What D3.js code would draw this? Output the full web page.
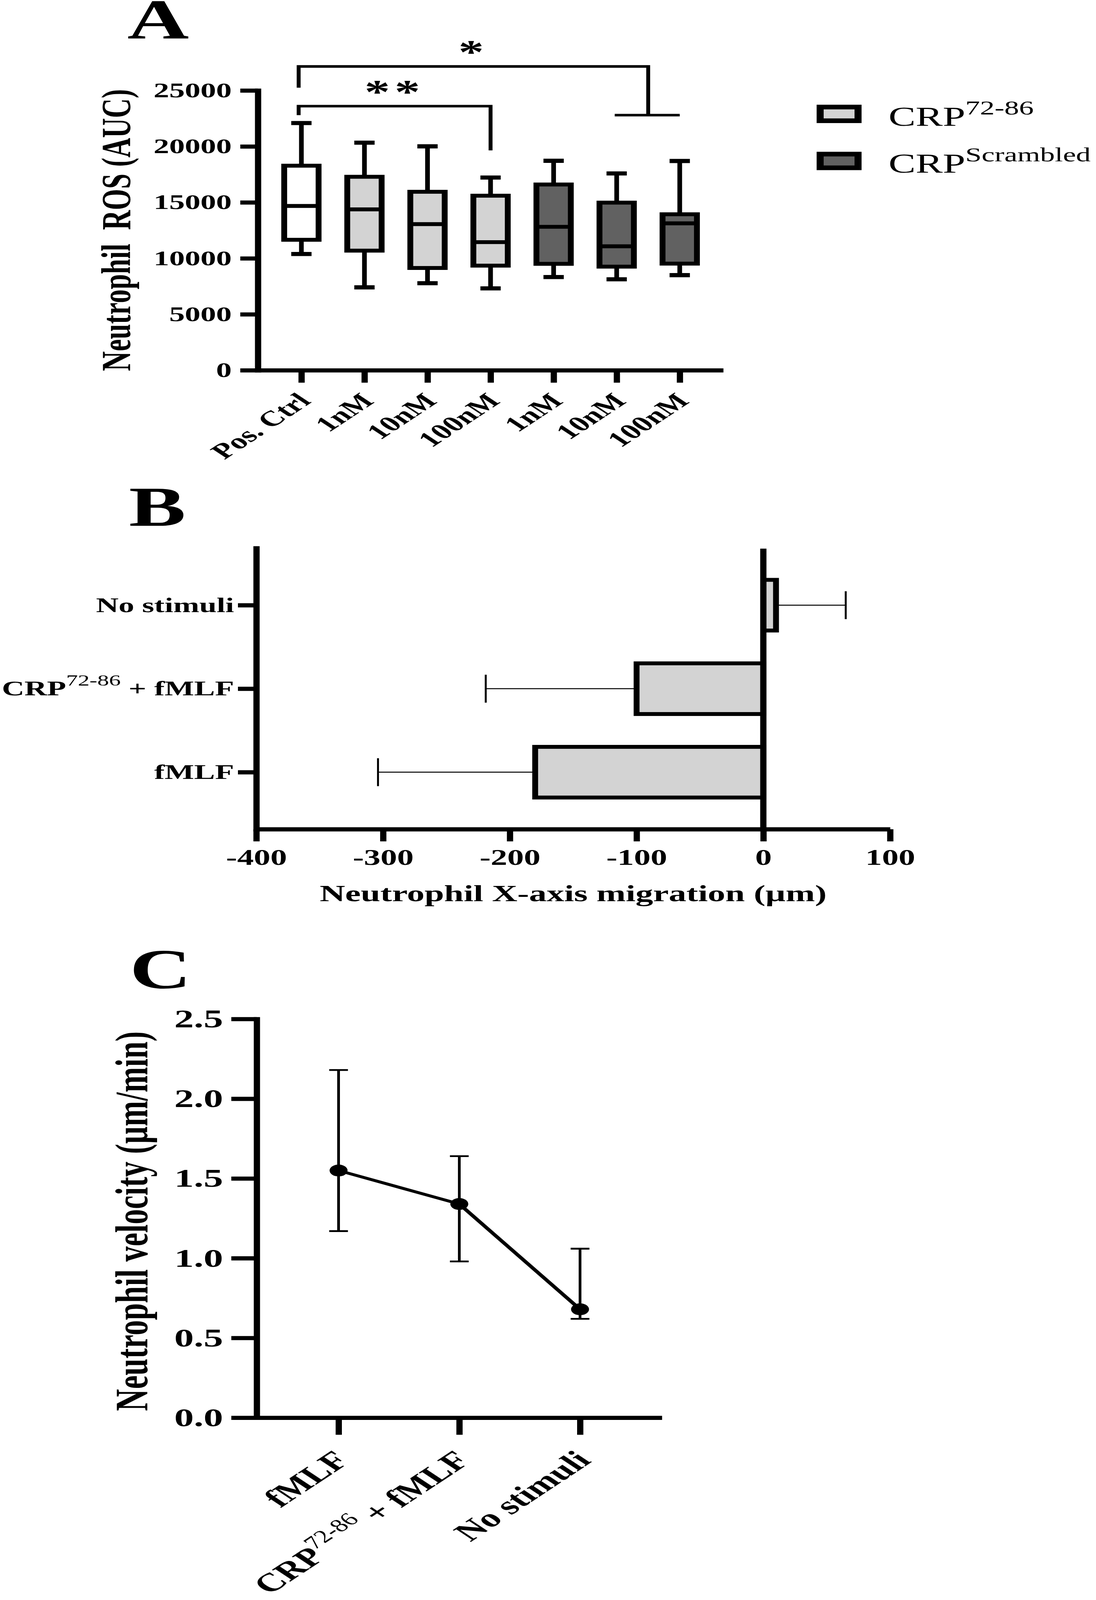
<!DOCTYPE html>
<html>
<head>
<meta charset="utf-8">
<script src="https://cdn.jsdelivr.net/npm/d3@7"></script>
<style>
  html, body { margin: 0; padding: 0; background: #fff; overflow: hidden; }
  svg { display: block; }
  svg text { font-family: "Liberation Serif", "Times New Roman", serif; }
</style>
</head>
<body>
<div id="chart"></div>
<script>
// ---- Panel A: neutrophil ROS box plots
const rosGroups = ["Pos. Ctrl", "1nM", "10nM", "100nM", "1nM", "10nM", "100nM"];
const rosPeptide = ["ctrl", "crp", "crp", "crp", "scr", "scr", "scr"];
const rosMin = [10390, 7410, 7780, 7320, 8330, 8130, 8500];
const rosQ1 = [11660, 10690, 9140, 9350, 9510, 9260, 9530];
const rosMedian = [14680, 14380, 13060, 11450, 12820, 11080, 13130];
const rosQ3 = [18280, 17290, 15950, 15600, 16600, 14980, 13940];
const rosMax = [22090, 20340, 20010, 17220, 18720, 17590, 18700];
const rosTicks = [0, 5000, 10000, 15000, 20000, 25000];
const legendLabels = [["CRP", "72-86"], ["CRP", "Scrambled"]];
const legendKeys = ["crp", "scr"];
const sigBrackets = [
    { label: "**", from: 0, to: [3], bar: 23600, leftEnd: 22800, rightEnd: 19650 },
    { label: "*", from: 0, to: [5, 6], bar: 27150, leftEnd: 25250, rightEnd: 22800 }
];

// ---- Panel B: X-axis migration
const migCategories = ["No stimuli", "CRP+fMLF", "fMLF"];
const migMean = [10, -100, -180];
const migErrEnd = [65, -219, -304];
const migTicks = [-400, -300, -200, -100, 0, 100];

// ---- Panel C: velocity
const velCategories = ["fMLF", "CRP+fMLF", "No stimuli"];
const velMean = [1.55, 1.34, 0.68];
const velUpper = [2.18, 1.64, 1.06];
const velLower = [1.17, 0.98, 0.62];
const velTicks = [0, 0.5, 1, 1.5, 2, 2.5];

const width = 2805;
const height = 6188;
const serif = "'Liberation Serif', 'Times New Roman', serif";
const fills = { ctrl: "#ffffff", crp: "#d3d3d3", scr: "#616161" };

// fit the drawing to the window we are given
const viewW = window.innerWidth || width;
const viewH = window.innerHeight || height;

const svg = d3.select("#chart").append("svg")
    .attr("width", viewW)
    .attr("height", viewH)
    .attr("viewBox", `0 0 ${width} ${height}`)
    .attr("preserveAspectRatio", "none");

svg.append("rect").attr("width", width).attr("height", height).attr("fill", "#fff");

function styleAxis(g, fontSize, lineWidth, cap) {
    g.attr("font-family", serif)
        .attr("font-size", fontSize)
        .attr("font-weight", "bold");
    g.select(".domain")
        .attr("stroke", "#000")
        .attr("stroke-width", lineWidth)
        .attr("stroke-linecap", cap || "butt");
    g.selectAll(".tick line")
        .attr("stroke", "#000")
        .attr("stroke-width", lineWidth);
    g.selectAll(".tick text").attr("fill", "#000");
}

function panelLetter(letter, x, y) {
    svg.append("text")
        .attr("x", x)
        .attr("y", y)
        .attr("font-size", 218)
        .attr("font-weight", "bold")
        .text(letter);
}

// ================= Panel A =================
panelLetter("A", 326, 150);

const yA = d3.scaleLinear().domain([0, 25000]).range([1432, 350]);
const xA = d3.scalePoint()
    .domain(d3.range(rosGroups.length))
    .range([660, 1851])
    .padding(0.69);

const gA = svg.append("g");

gA.append("g")
    .attr("transform", "translate(660,0)")
    .call(d3.axisLeft(yA).tickValues(rosTicks).tickSize(45).tickPadding(22).tickSizeOuter(0).tickFormat(d => String(d)))
    .call(g => styleAxis(g, 80, 16, "square"));

const xAxisA = gA.append("g")
    .attr("transform", "translate(0,1432)")
    .call(d3.axisBottom(xA).tickSize(48).tickSizeOuter(0).tickFormat(i => rosGroups[i]))
    .call(g => styleAxis(g, 84, 16));

xAxisA.selectAll(".tick text")
    .attr("y", null)
    .attr("dy", null)
    .attr("text-anchor", "end")
    .attr("transform", "translate(27,123) rotate(-45)");

gA.append("text")
    .attr("transform", "translate(333,890) rotate(-90)")
    .attr("text-anchor", "middle")
    .attr("font-size", 106)
    .attr("font-weight", "bold")
    .style("white-space", "pre")
    .text("Neutrophil  ROS (AUC)");

const boxHalf = 44;
const capHalf = 26;

const boxes = gA.append("g")
    .selectAll("g.box")
    .data(rosGroups.map((name, i) => ({
        i, name,
        group: rosPeptide[i],
        min: rosMin[i], q1: rosQ1[i], med: rosMedian[i], q3: rosQ3[i], max: rosMax[i]
    })))
    .enter()
    .append("g")
    .attr("class", "box");

// whiskers
boxes.append("line")
    .attr("x1", d => xA(d.i)).attr("x2", d => xA(d.i))
    .attr("y1", d => yA(d.max)).attr("y2", d => yA(d.q3))
    .attr("stroke", "#000").attr("stroke-width", 12);
boxes.append("line")
    .attr("x1", d => xA(d.i)).attr("x2", d => xA(d.i))
    .attr("y1", d => yA(d.q1)).attr("y2", d => yA(d.min))
    .attr("stroke", "#000").attr("stroke-width", 12);
// caps
boxes.selectAll("line.cap")
    .data(d => [{ x: xA(d.i), v: d.max }, { x: xA(d.i), v: d.min }])
    .enter()
    .append("line")
    .attr("class", "cap")
    .attr("x1", c => c.x - capHalf).attr("x2", c => c.x + capHalf)
    .attr("y1", c => yA(c.v)).attr("y2", c => yA(c.v))
    .attr("stroke", "#000").attr("stroke-width", 16);
// box
boxes.append("rect")
    .attr("x", d => xA(d.i) - boxHalf)
    .attr("width", boxHalf * 2)
    .attr("y", d => yA(d.q3))
    .attr("height", d => yA(d.q1) - yA(d.q3))
    .attr("fill", d => fills[d.group])
    .attr("stroke", "#000")
    .attr("stroke-width", 15);
// median
boxes.append("line")
    .attr("x1", d => xA(d.i) - boxHalf).attr("x2", d => xA(d.i) + boxHalf)
    .attr("y1", d => yA(d.med)).attr("y2", d => yA(d.med))
    .attr("stroke", "#000").attr("stroke-width", 15);

// significance brackets
sigBrackets.forEach(b => {
    const x0 = xA(b.from) - 7;
    const xs = b.to.map(t => xA(t));
    const x1 = d3.mean(xs);
    const p = d3.path();
    p.moveTo(x0, yA(b.leftEnd));
    p.lineTo(x0, yA(b.bar));
    p.lineTo(x1, yA(b.bar));
    p.lineTo(x1, yA(b.rightEnd));
    if (xs.length > 1) {
        p.moveTo(d3.min(xs) - 5, yA(b.rightEnd));
        p.lineTo(d3.max(xs), yA(b.rightEnd));
    }
    gA.append("path")
        .attr("d", p.toString())
        .attr("fill", "none")
        .attr("stroke", "#000")
        .attr("stroke-width", 10);
    gA.append("text")
        .attr("x", (x0 + x1) / 2)
        .attr("y", yA(b.bar) - 12)
        .attr("text-anchor", "middle")
        .attr("font-family", "'Liberation Sans', Arial, sans-serif")
        .attr("font-weight", "bold")
        .attr("font-size", 130)
        .attr("letter-spacing", 12)
        .text(b.label);
});

// legend
const legend = gA.append("g")
    .selectAll("g.item")
    .data(legendKeys)
    .enter()
    .append("g")
    .attr("class", "item")
    .attr("transform", (d, i) => `translate(2147,${441 + i * 182})`);

legend.append("rect")
    .attr("x", -48).attr("y", -27)
    .attr("width", 97).attr("height", 53)
    .attr("fill", d => fills[d])
    .attr("stroke", "#000")
    .attr("stroke-width", 18);

const legendText = legend.append("text")
    .attr("x", 127)
    .attr("y", 45)
    .attr("font-size", 104);
legendText.append("tspan").text((d, i) => legendLabels[i][0]);
legendText.append("tspan")
    .attr("font-size", 75)
    .attr("dy", -44)
    .text((d, i) => legendLabels[i][1]);

// ================= Panel B =================
panelLetter("B", 330, 2034);

const xB = d3.scaleLinear().domain([-400, 100]).range([656, 2278]);
const yB = d3.scalePoint().domain(migCategories).range([2120, 3207]).padding(0.683);
const gB = svg.append("g");

const yAxisB = gB.append("g")
    .attr("transform", `translate(${xB(-400)},0)`)
    .call(d3.axisLeft(yB).tickSize(47).tickPadding(10).tickSizeOuter(0))
    .call(g => styleAxis(g, 80, 16, "square"));

yAxisB.selectAll(".tick text")
    .filter(d => d === "CRP+fMLF")
    .text(null)
    .call(t => {
        t.append("tspan").text("CRP");
        t.append("tspan").attr("font-weight", "normal").attr("font-size", 60).attr("dy", -38).text("72-86");
        t.append("tspan").attr("dy", 38).text(" + fMLF");
    });

gB.append("g")
    .attr("transform", "translate(0,3207)")
    .call(d3.axisBottom(xB).tickValues(migTicks).tickSize(47).tickPadding(30).tickSizeOuter(0).tickFormat(d => String(d)))
    .call(g => styleAxis(g, 85, 16));

gB.append("text")
    .attr("x", (xB(-400) + xB(100)) / 2)
    .attr("y", 3486)
    .attr("text-anchor", "middle")
    .attr("font-size", 90)
    .attr("font-weight", "bold")
    .text("Neutrophil X-axis migration (\u00b5m)");

const barHalf = 98;
const migData = migCategories.map((c, i) => ({ c, v: migMean[i], e: migErrEnd[i] }));

gB.append("g").selectAll("line.err")
    .data(migData).enter().append("line")
    .attr("x1", d => xB(d.v)).attr("x2", d => xB(d.e))
    .attr("y1", d => yB(d.c)).attr("y2", d => yB(d.c))
    .attr("stroke", "#000").attr("stroke-width", 4);
gB.append("g").selectAll("line.errcap")
    .data(migData).enter().append("line")
    .attr("x1", d => xB(d.e)).attr("x2", d => xB(d.e))
    .attr("y1", d => yB(d.c) - 54).attr("y2", d => yB(d.c) + 54)
    .attr("stroke", "#000").attr("stroke-width", 5);

gB.append("g").selectAll("rect")
    .data(migData).enter().append("rect")
    .attr("x", d => xB(Math.min(0, d.v)))
    .attr("width", d => Math.abs(xB(d.v) - xB(0)))
    .attr("y", d => yB(d.c) - barHalf)
    .attr("height", barHalf * 2)
    .attr("fill", fills.crp)
    .attr("stroke", "#000")
    .attr("stroke-width", 15);

gB.append("line")
    .attr("x1", xB(0)).attr("x2", xB(0))
    .attr("y1", 2122).attr("y2", 3207)
    .attr("stroke", "#000").attr("stroke-width", 16);

// ================= Panel C =================
panelLetter("C", 332, 3822);

const yC = d3.scaleLinear().domain([0, 2.5]).range([5483, 3941]);
const xC = d3.scalePoint().domain(velCategories).range([657, 1694]).padding(0.678);
const gC = svg.append("g");

gC.append("g")
    .attr("transform", "translate(657,0)")
    .call(d3.axisLeft(yC).tickValues(velTicks).tickSize(65).tickPadding(21).tickSizeOuter(0).tickFormat(d3.format(".1f")))
    .call(g => styleAxis(g, 100, 16, "square"));

const xAxisC = gC.append("g")
    .attr("transform", "translate(0,5483)")
    .call(d3.axisBottom(xC).tickSize(66).tickSizeOuter(0))
    .call(g => styleAxis(g, 100, 16));

xAxisC.selectAll(".tick text")
    .attr("y", null)
    .attr("dy", null)
    .attr("text-anchor", "end")
    .attr("transform", "translate(31,170) rotate(-45)");

xAxisC.selectAll(".tick text")
    .filter(d => d === "CRP+fMLF")
    .text(null)
    .call(t => {
        t.append("tspan").text("CRP");
        t.append("tspan").attr("font-weight", "normal").attr("font-size", 70).attr("dy", -42).text("72-86");
        t.append("tspan").attr("dy", 42).text(" + fMLF");
    });

gC.append("text")
    .attr("transform", "translate(377,4723) rotate(-90)")
    .attr("text-anchor", "middle")
    .attr("font-size", 118)
    .attr("font-weight", "bold")
    .text("Neutrophil velocity (\u00b5m/min)");

const velData = velCategories.map((c, i) => ({ c, v: velMean[i], hi: velUpper[i], lo: velLower[i] }));

gC.append("g").selectAll("line.err")
    .data(velData).enter().append("line")
    .attr("x1", d => xC(d.c)).attr("x2", d => xC(d.c))
    .attr("y1", d => yC(d.hi)).attr("y2", d => yC(d.lo))
    .attr("stroke", "#000").attr("stroke-width", 7);
gC.append("g").selectAll("line.cap")
    .data(velData.flatMap(d => [{ c: d.c, v: d.hi }, { c: d.c, v: d.lo }]))
    .enter().append("line")
    .attr("x1", d => xC(d.c) - 24).attr("x2", d => xC(d.c) + 24)
    .attr("y1", d => yC(d.v)).attr("y2", d => yC(d.v))
    .attr("stroke", "#000").attr("stroke-width", 7);

gC.append("path")
    .datum(velData)
    .attr("fill", "none")
    .attr("stroke", "#000")
    .attr("stroke-width", 11)
    .attr("d", d3.line().x(d => xC(d.c)).y(d => yC(d.v)));

gC.append("g").selectAll("circle")
    .data(velData).enter().append("circle")
    .attr("cx", d => xC(d.c))
    .attr("cy", d => yC(d.v))
    .attr("r", 23)
    .attr("fill", "#000");
</script>
</body>
</html>
